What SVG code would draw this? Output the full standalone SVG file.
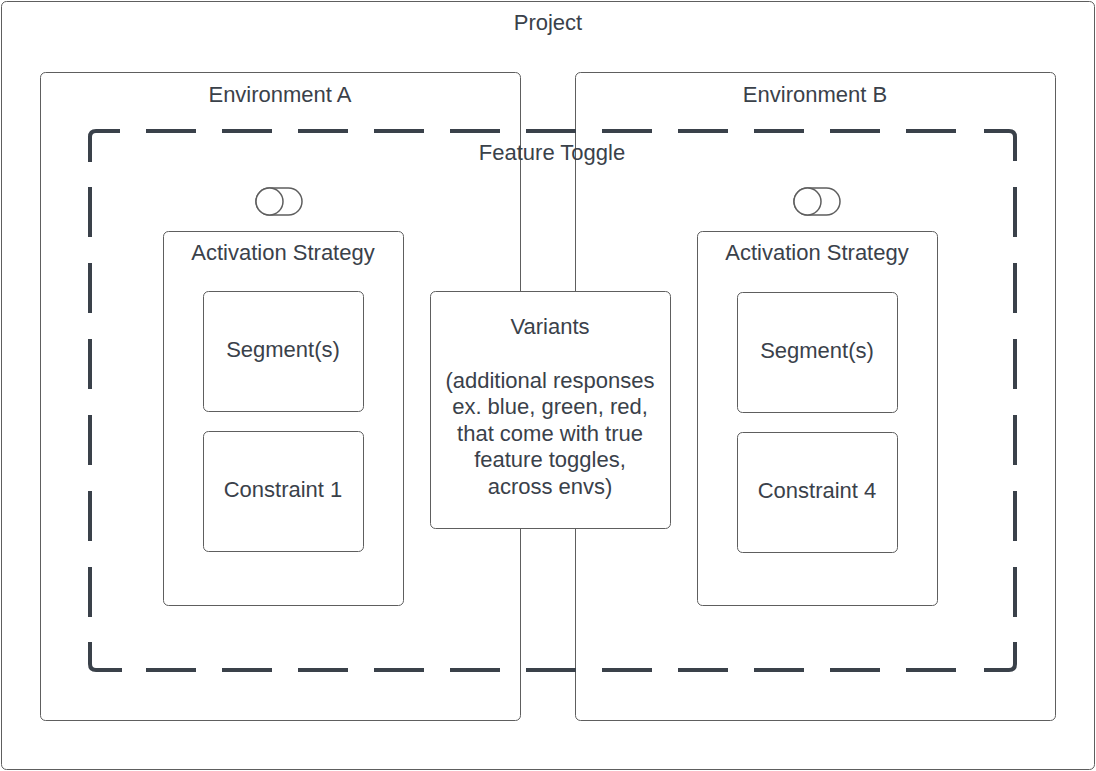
<svg xmlns="http://www.w3.org/2000/svg" width="1096" height="771" viewBox="0 0 1096 771">
<style>
.box{fill:#ffffff;stroke:#5e5e5e;stroke-width:1}
.t{font-family:"Liberation Sans",Arial,sans-serif;font-size:22px;fill:#3a414a;text-anchor:middle}
.dash{fill:none;stroke:#3a414a;stroke-width:4}
.sd{stroke-dasharray:50 26}
.tg{fill:#ffffff;stroke:#5e5e5e;stroke-width:1.5}
</style>
<rect width="1096" height="771" fill="#ffffff"/>
<g id="project">
<rect class="box" x="1.5" y="1.5" width="1093" height="768" rx="5"/>
<text class="t" x="548" y="30">Project</text>
</g>
<g id="envA">
<rect class="box" x="40.5" y="72.5" width="480" height="648" rx="5"/>
<text class="t" x="280" y="102">Environment A</text>
</g>
<g id="envB">
<rect class="box" x="575.5" y="72.5" width="480" height="648" rx="5"/>
<text class="t" x="815" y="102">Environment B</text>
</g>
<g id="featureToggle">
<path class="dash" d="M90,162 V137 Q90,131 96,131 H120"/>
<path class="dash" d="M984,131 H1009 Q1015,131 1015,137 V161"/>
<path class="dash" d="M1015,642 V664 Q1015,670 1009,670 H984"/>
<path class="dash" d="M122,670 H96 Q90,670 90,664 V642"/>
<path class="dash sd" d="M146,131 H956"/>
<path class="dash sd" d="M146,670 H956"/>
<path class="dash sd" d="M90,187 V617"/>
<path class="dash sd" d="M1015,187 V617"/>
<text class="t" x="552" y="160">Feature Toggle</text>
</g>
<g id="toggleA">
<rect class="tg" x="256" y="188" width="46" height="27" rx="13.5"/>
<circle class="tg" cx="269.5" cy="201.5" r="13.5"/>
</g>
<g id="toggleB">
<rect class="tg" x="794" y="188" width="46" height="27" rx="13.5"/>
<circle class="tg" cx="807.5" cy="201.5" r="13.5"/>
</g>
<g id="activationA">
<rect class="box" x="163.5" y="231.5" width="240" height="374" rx="5"/>
<text class="t" x="283" y="260">Activation Strategy</text>
</g>
<g id="segmentA">
<rect class="box" x="203.5" y="291.5" width="160" height="120" rx="5"/>
<text class="t" x="283" y="357">Segment(s)</text>
</g>
<g id="constraint1">
<rect class="box" x="203.5" y="431.5" width="160" height="120" rx="5"/>
<text class="t" x="283" y="497">Constraint 1</text>
</g>
<g id="activationB">
<rect class="box" x="697.5" y="231.5" width="240" height="374" rx="5"/>
<text class="t" x="817" y="260">Activation Strategy</text>
</g>
<g id="segmentB">
<rect class="box" x="737.5" y="292.5" width="160" height="120" rx="5"/>
<text class="t" x="817" y="358">Segment(s)</text>
</g>
<g id="constraint4">
<rect class="box" x="737.5" y="432.5" width="160" height="120" rx="5"/>
<text class="t" x="817" y="498">Constraint 4</text>
</g>
<g id="variants">
<rect class="box" x="430.5" y="291.5" width="240" height="237" rx="5"/>
<text class="t" x="550" y="334">Variants</text>
<text class="t" x="550" y="387.5">(additional responses</text>
<text class="t" x="550" y="414">ex. blue, green, red,</text>
<text class="t" x="550" y="440.5">that come with true</text>
<text class="t" x="550" y="467">feature toggles,</text>
<text class="t" x="550" y="493.5">across envs)</text>
</g>
<g id="connectors"></g>
</svg>
